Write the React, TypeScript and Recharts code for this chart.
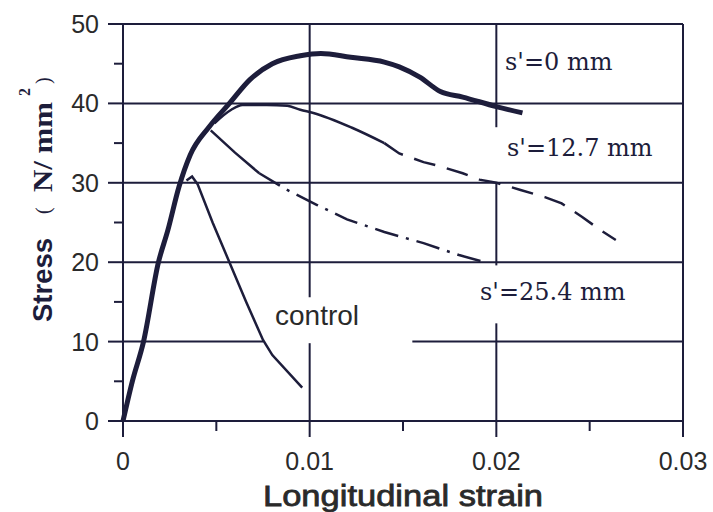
import { LineChart, Line, XAxis, YAxis, ReferenceLine } from 'recharts';

const INK = '#1d1d3b';
const SANS = '"Liberation Sans", Arial, Helvetica, sans-serif';
const SERIF = '"Liberation Serif", "Times New Roman", serif';
const DV_SERIF = '"DejaVu Serif", serif';

// s' = 0 mm (thick curve)
const s0Strain = [0, 0.0005, 0.0011, 0.0019, 0.0024, 0.003, 0.0036, 0.0046, 0.0057, 0.0068, 0.008, 0.0095, 0.0106, 0.0122, 0.014, 0.0148, 0.0159, 0.017, 0.0182, 0.02, 0.0214];
const s0Stress = [0, 5, 10, 20, 24, 29.5, 33.5, 37, 40, 43, 45, 46, 46.3, 45.8, 45.2, 44.6, 43.3, 41.5, 40.8, 39.6, 38.8];

// s' = 12.7 mm (solid start, then dashed)
const s12SolidStrain = [0.0049, 0.0058, 0.0064, 0.0077, 0.0088, 0.0095, 0.0102, 0.0123, 0.014];
const s12SolidStress = [37.5, 39.2, 39.8, 39.8, 39.7, 39.2, 38.8, 36.9, 35.0];
const s12DashStrain = [0.014, 0.0148, 0.0161, 0.0168, 0.0182, 0.0191, 0.02, 0.0213, 0.0226, 0.0235, 0.0246, 0.0256, 0.0264];
const s12DashStress = [35.0, 33.7, 32.6, 32.2, 31.2, 30.4, 30.0, 29.1, 28.2, 27.4, 25.7, 24.0, 22.8];

// s' = 25.4 mm (solid start, then dash-dot)
const s25SolidStrain = [0.0047, 0.006, 0.0073];
const s25SolidStress = [36.6, 33.8, 31.2];
const s25DashStrain = [0.0073, 0.0088, 0.0104, 0.012, 0.014, 0.0161, 0.018, 0.0194];
const s25DashStress = [31.2, 29.1, 27.2, 25.4, 23.8, 22.4, 20.9, 20.0];

// control
const ctrlStrain = [0.0034, 0.0037, 0.004, 0.0048, 0.0057, 0.0066, 0.0075, 0.008, 0.0096];
const ctrlStress = [30.3, 30.8, 29.8, 25, 20, 15, 10.2, 8.3, 4.2];

const xTicks = [0, 0.005, 0.01, 0.015, 0.02, 0.025, 0.03];
const xMajor = [0, 0.01, 0.02, 0.03];
const xTickLabels = ['0', '0.01', '0.02', '0.03'];
const yTicks = [0, 5, 10, 15, 20, 25, 30, 35, 40, 45, 50];

const toPoints = (xs: number[], ys: number[]) => xs.map((x, i) => ({ strain: x, stress: ys[i] }));

const s0 = toPoints(s0Strain, s0Stress);
const s12a = toPoints(s12SolidStrain, s12SolidStress);
const s12b = toPoints(s12DashStrain, s12DashStress);
const s25a = toPoints(s25SolidStrain, s25SolidStress);
const s25b = toPoints(s25DashStrain, s25DashStress);
const ctrl = toPoints(ctrlStrain, ctrlStress);

// grid pieces, with gaps left for the labels
const hGrid: [number, number, number][] = [
  [40, 0, 0.03],
  [30, 0, 0.03],
  [20, 0, 0.03],
  [10, 0, 0.0075],
  [10, 0.0155, 0.03],
  [50, 0, 0.03],
];
const vGrid: [number, number, number][] = [
  [0.01, 0, 9.8],
  [0.01, 15.6, 50],
  [0.02, 0, 12.3],
  [0.02, 19.6, 30],
  [0.02, 37, 50],
  [0.03, 0, 50],
];

const Y_TICK = 15;
const Y_GAP = 9;
const X_TICK = 16;

const YTick = ({ x, y, payload }: any) => {
  const v = payload.value;
  const major = v % 10 === 0;
  const axisX = x + Y_TICK + Y_GAP;
  return (
    <g>
      <line x1={axisX - (major ? 15 : 9)} x2={axisX} y1={y} y2={y} stroke={INK} strokeWidth={2} />
      {major && (
        <text x={x} y={y + 9} textAnchor="end" fontSize={25} fontFamily={SANS} fill="#2a2a2a">
          {v}
        </text>
      )}
    </g>
  );
};

const XTick = ({ x, y, payload }: any) => {
  const v = payload.value;
  const idx = xMajor.indexOf(v);
  const axisY = y - X_TICK;
  return (
    <g>
      <line x1={x} x2={x} y1={axisY} y2={axisY + (idx >= 0 ? 16 : 10)} stroke={INK} strokeWidth={2} />
      {idx >= 0 && (
        <text x={x} y={axisY + 49} textAnchor="middle" fontSize={25} fontFamily={SANS} fill="#2a2a2a">
          {xTickLabels[idx]}
        </text>
      )}
    </g>
  );
};

export default function App() {
  return (
    <div style={{ position: 'absolute', left: 0, top: 0, width: 713, height: 512, background: '#fff' }}>
      <LineChart width={713} height={512} margin={{ top: 24, right: 30, bottom: 0, left: 0 }}>
        <XAxis
          type="number"
          dataKey="strain"
          domain={[0, 0.03]}
          ticks={xTicks}
          interval={0}
          height={91}
          tickSize={X_TICK}
          tickMargin={0}
          tickLine={false}
          axisLine={{ stroke: INK, strokeWidth: 2 }}
          tick={<XTick />}
        />
        <YAxis
          type="number"
          domain={[0, 50]}
          ticks={yTicks}
          interval={0}
          width={123}
          tickSize={Y_TICK}
          tickMargin={Y_GAP}
          tickLine={false}
          axisLine={{ stroke: INK, strokeWidth: 2 }}
          tick={<YTick />}
        />
        {hGrid.map(([y, x1, x2], i) => (
          <ReferenceLine
            key={'h' + i}
            segment={[{ x: x1, y }, { x: x2, y }]}
            stroke={INK}
            strokeWidth={2}
          />
        ))}
        {vGrid.map(([x, y1, y2], i) => (
          <ReferenceLine
            key={'v' + i}
            segment={[{ x, y: y1 }, { x, y: y2 }]}
            stroke={INK}
            strokeWidth={2}
          />
        ))}
        <Line data={ctrl} dataKey="stress" type="linear" stroke={INK} strokeWidth={2.5} dot={false} isAnimationActive={false} />
        <Line data={s25a} dataKey="stress" type="linear" stroke={INK} strokeWidth={2.5} dot={false} isAnimationActive={false} />
        <Line data={s25b} dataKey="stress" type="linear" stroke={INK} strokeWidth={2.5} strokeDasharray="24 8 3 8" dot={false} isAnimationActive={false} />
        <Line data={s12a} dataKey="stress" type="monotone" stroke={INK} strokeWidth={2.5} dot={false} isAnimationActive={false} />
        <Line data={s12b} dataKey="stress" type="linear" stroke={INK} strokeWidth={2.5} strokeDasharray="22 12" dot={false} isAnimationActive={false} />
        <Line data={s0} dataKey="stress" type="monotone" stroke={INK} strokeWidth={5} strokeLinejoin="round" dot={false} isAnimationActive={false} />
      </LineChart>
      <svg width={713} height={512} style={{ position: 'absolute', left: 0, top: 0, pointerEvents: 'none' }}>
        <text x={505} y={70} fontSize={24} fontFamily={DV_SERIF} fill={INK}>s'=0 mm</text>
        <text x={507} y={156} fontSize={24} fontFamily={DV_SERIF} fill={INK}>s'=12.7 mm</text>
        <text x={480} y={300} fontSize={24} fontFamily={DV_SERIF} fill={INK}>s'=25.4 mm</text>
        <text x={275} y={325} fontSize={28} fontFamily={SANS} fill="#2a2a2a">control</text>

        <text transform="translate(52,322) rotate(-90)" fontSize={28} fontWeight="bold" fontFamily={SANS} fill={INK} textLength={84} lengthAdjust="spacingAndGlyphs">Stress</text>
        <text transform="translate(50,214) rotate(-90)" fontSize={20} fontFamily={SERIF} fill={INK}>(</text>
        <text transform="translate(52,192) rotate(-90)" fontSize={28} fontWeight="bold" fontFamily={SERIF} fill={INK} textLength={90} lengthAdjust="spacingAndGlyphs">N/ mm</text>
        <text transform="translate(30,96) rotate(-90)" fontSize={16} fontWeight="bold" fontFamily={SERIF} fill={INK}>2</text>
        <text transform="translate(50,84) rotate(-90)" fontSize={20} fontFamily={SERIF} fill={INK}>)</text>

        <text x={403} y={506} textAnchor="middle" fontSize={30} fontFamily={SANS} fill="#2a2a2a" stroke="#2a2a2a" strokeWidth={0.8} textLength={280} lengthAdjust="spacingAndGlyphs">Longitudinal strain</text>
      </svg>
    </div>
  );
}
